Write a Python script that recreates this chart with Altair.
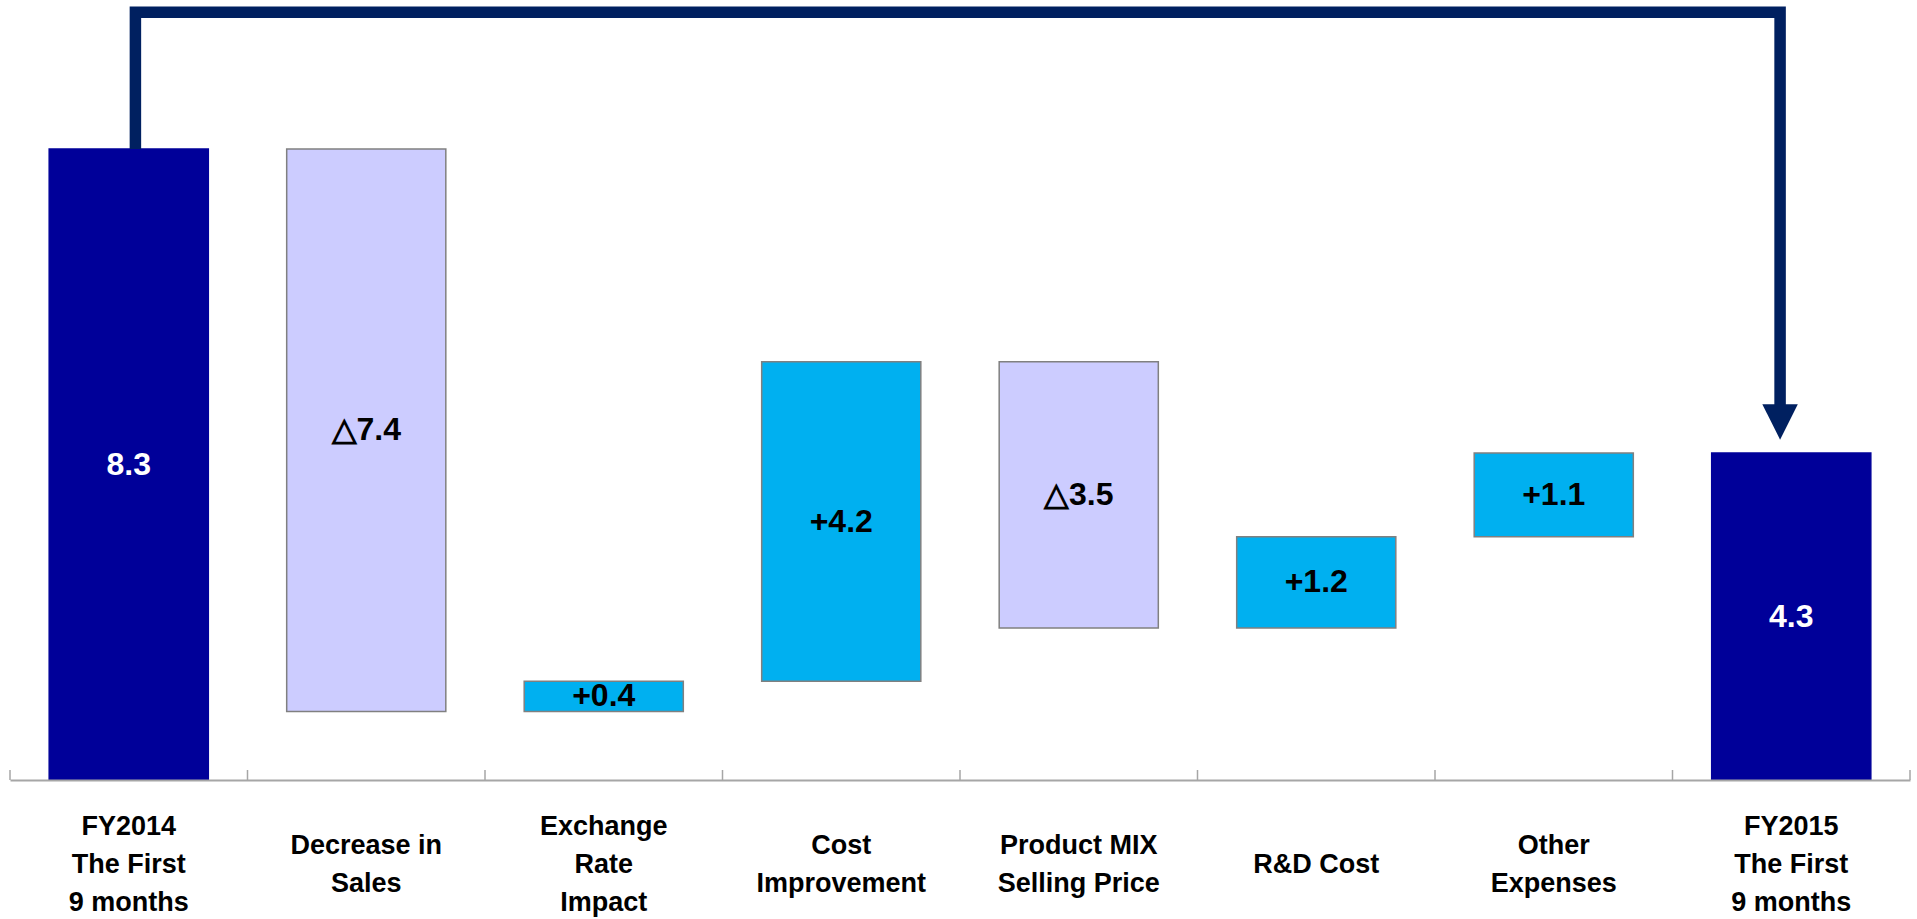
import altair as alt
import pandas as pd

# ---- data -------------------------------------------------------------
categories = [
    "FY2014|The First|9 months",
    "Decrease in|Sales",
    "Exchange|Rate|Impact",
    "Cost|Improvement",
    "Product MIX|Selling Price",
    "R&D Cost",
    "Other|Expenses",
    "FY2015|The First|9 months",
]
# change for each step; first and last are totals
changes = [8.3, -7.4, 0.4, 4.2, -3.5, 1.2, 1.1, 4.3]
kinds = ["total", "down", "up", "up", "down", "up", "up", "total"]
value_labels = ["8.3", "△7.4", "+0.4", "+4.2", "△3.5", "+1.2", "+1.1", "4.3"]

# arrow path (band units on x, value units on y)
arrow_x = [0.528, 0.528, 7.453, 7.453]
arrow_y = [8.3, 10.1, 10.1, 4.9]
arrow_head_x = [7.453]
arrow_head_y = [4.71]
tick_positions = list(range(len(categories) + 1))

# ---- layout constants -------------------------------------------------
W, H = 1900, 780
YMAX = 10.26
PX_PER_UNIT = H / YMAX
LABEL_CENTER = 85      # px below the axis line to the centre of a label block
LINE_H = 38            # px between label lines
FONT = "Liberation Sans, Arial, Helvetica, sans-serif"

# ---- build tables -----------------------------------------------------
rows = []
running = 0.0
for cat, ch, kind, lab in zip(categories, changes, kinds, value_labels):
    if kind == "total":
        start, end = 0.0, ch
        running = ch
    else:
        start = running
        end = running + ch
        running = end
    n = len(cat.split("|"))
    first_line_px = LABEL_CENTER - (n - 1) / 2 * LINE_H
    rows.append({"cat": cat, "start": round(start, 2), "end": round(end, 2),
                 "mid": (start + end) / 2, "kind": kind, "label": lab,
                 "label_y": -first_line_px / PX_PER_UNIT})
bars = pd.DataFrame(rows)
arrow = pd.DataFrame({"x": arrow_x, "y": arrow_y, "o": list(range(len(arrow_x)))})
head = pd.DataFrame({"x": arrow_head_x, "y": arrow_head_y})
ticks = pd.DataFrame({"x": tick_positions})

yscale = alt.Scale(domain=[0, YMAX], nice=False, zero=False)
xq = alt.Scale(domain=[0, len(categories)], nice=False, zero=False)

x_enc = alt.X(
    "cat:N",
    sort=categories,
    scale=alt.Scale(paddingInner=0, paddingOuter=0),
    axis=alt.Axis(
        title=None,
        labels=False,
        ticks=False,
        tickSize=0,
        domainColor="#A6A6A6",
        domainWidth=2,
        zindex=1,
    ),
)

color_scale = alt.Scale(domain=["total", "down", "up"],
                        range=["#000099", "#CCCCFF", "#00B0F0"])
stroke_scale = alt.Scale(domain=["total", "down", "up"],
                         range=["#000099", "#808080", "#808080"])

bar_layer = alt.Chart(bars).mark_bar(
    width=alt.RelativeBandSize(0.67), strokeWidth=1.5
).encode(
    x=x_enc,
    y=alt.Y("start:Q", scale=yscale, axis=None),
    y2="end:Q",
    color=alt.Color("kind:N", scale=color_scale, legend=None),
    stroke=alt.Stroke("kind:N", scale=stroke_scale, legend=None),
)

text_layer = alt.Chart(bars).mark_text(
    font=FONT, fontSize=32, fontWeight="bold", baseline="middle", align="center"
).encode(
    x=alt.X("cat:N", sort=categories),
    y=alt.Y("mid:Q", scale=yscale, axis=None),
    text="label:N",
    color=alt.condition(alt.datum.kind == "total", alt.value("#FFFFFF"), alt.value("#000000")),
)

cat_label_layer = alt.Chart(bars).mark_text(
    font=FONT, fontSize=27, fontWeight="bold", baseline="middle", align="center",
    lineBreak="|", lineHeight=LINE_H, color="#000000"
).encode(
    x=alt.X("cat:N", sort=categories),
    y=alt.Y("label_y:Q", scale=yscale, axis=None),
    text="cat:N",
)

bars_chart = alt.layer(bar_layer, text_layer, cat_label_layer)

arrow_line = alt.Chart(arrow).mark_line(
    color="#002060", strokeWidth=11.5, strokeJoin="miter", strokeCap="butt"
).encode(
    x=alt.X("x:Q", scale=xq, axis=None),
    y=alt.Y("y:Q", scale=yscale, axis=None),
    order="o:Q",
)

arrow_head = alt.Chart(head).mark_point(
    shape="M-1,-1L1,-1L0,1Z", size=1260, filled=True, color="#002060", opacity=1
).encode(
    x=alt.X("x:Q", scale=xq, axis=None),
    y=alt.Y("y:Q", scale=yscale, axis=None),
)

tick_layer = alt.Chart(ticks).mark_rule(color="#A6A6A6", strokeWidth=1.5).encode(
    x=alt.X("x:Q", scale=xq, axis=None),
    y=alt.value(H),
    y2=alt.value(H - 10),
)

overlay = alt.layer(arrow_line, arrow_head, tick_layer)

chart = alt.layer(bars_chart, overlay).resolve_scale(x="independent").properties(
    width=W,
    height=H,
    autosize=alt.AutoSizeParams(type="none"),
    padding={"left": 10, "top": 0, "right": 7, "bottom": 139},
    background="#FFFFFF",
).configure_view(stroke=None)

chart.save("out.html", embed_options={"renderer": "svg", "actions": False})
